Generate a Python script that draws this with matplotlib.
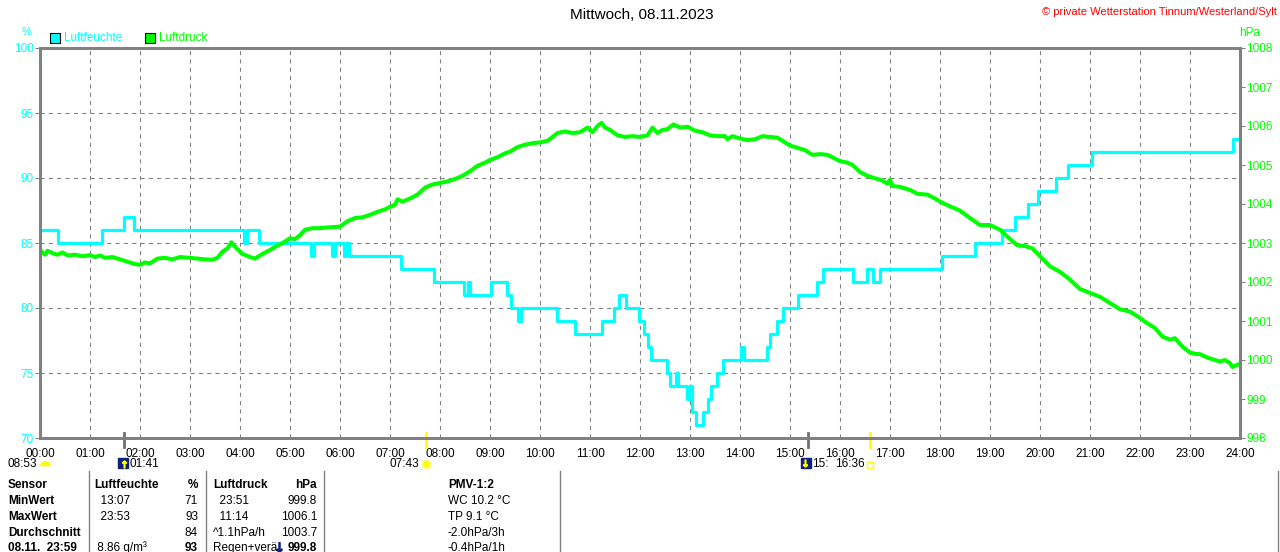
import matplotlib
matplotlib.use("Agg")
import matplotlib.pyplot as plt
from matplotlib.patches import Rectangle, Wedge
from matplotlib.transforms import blended_transform_factory

plt.rcParams['font.family'] = ['Liberation Sans', 'DejaVu Sans']

W, H = 1280, 552

# humidity (%), step values: time in hours, value held until next time
hum_t = [0, 0.36, 1.23, 1.68, 1.88, 4.08, 4.14, 4.37, 5.42, 5.48, 5.83, 5.89, 6.08, 6.12,
         6.18, 7.22, 7.88, 8.47, 8.56, 8.60, 9.03, 9.34, 9.42, 9.56, 9.62, 10.33, 10.70,
         11.24, 11.47, 11.58, 11.72, 11.98, 12.08, 12.16, 12.22, 12.54, 12.60, 12.72, 12.76,
         12.94, 13.00, 13.04, 13.12, 13.26, 13.36, 13.42, 13.54, 13.66, 14.02, 14.08, 14.54,
         14.60, 14.74, 14.86, 15.16, 15.54, 15.66, 16.26, 16.54, 16.66, 16.80, 18.04, 18.70,
         19.24, 19.50, 19.76, 19.96, 20.32, 20.56, 21.04, 23.86, 24.0]
hum_v = [86, 85, 86, 87, 86, 85, 86, 85, 84, 85, 84, 85, 84, 85,
         84, 83, 82, 81, 82, 81, 82, 81, 80, 79, 80, 79, 78,
         79, 80, 81, 80, 79, 78, 77, 76, 75, 74, 75, 74,
         73, 74, 72, 71, 72, 73, 74, 75, 76, 77, 76, 77,
         78, 79, 80, 81, 82, 83, 82, 83, 82, 83, 84, 85,
         86, 87, 88, 89, 90, 91, 92, 93, 93]

# air pressure (hPa)
pres_t = [0.00, 0.10, 0.15, 0.25, 0.35, 0.45, 0.55, 0.70, 0.85, 1.00, 1.10, 1.20, 1.30, 1.45,
          1.60, 1.75, 1.90, 2.00, 2.10, 2.20, 2.35, 2.50, 2.65, 2.80, 3.00, 3.15, 3.30, 3.45,
          3.55, 3.65, 3.75, 3.83, 3.92, 4.05, 4.20, 4.30, 4.45, 4.60, 4.70, 4.85, 5.00, 5.10,
          5.20, 5.30, 5.45, 5.60, 5.75, 6.00, 6.15, 6.30, 6.45, 6.60, 6.75, 6.90, 7.00, 7.10,
          7.15, 7.25, 7.40, 7.55, 7.70, 7.85, 8.00, 8.15, 8.30, 8.45, 8.60, 8.75, 8.90, 9.00,
          9.15, 9.30, 9.40, 9.55, 9.70, 9.85, 10.00, 10.15, 10.25, 10.35, 10.50, 10.65, 10.80,
          10.95, 11.05, 11.15, 11.23, 11.30, 11.40, 11.55, 11.70, 11.85, 12.00, 12.15, 12.25,
          12.35, 12.45, 12.55, 12.67, 12.80, 12.95, 13.10, 13.25, 13.40, 13.55, 13.70, 13.75,
          13.85, 14.00, 14.15, 14.30, 14.45, 14.60, 14.75, 14.85, 15.00, 15.15, 15.30, 15.45,
          15.60, 15.75, 16.00, 16.15, 16.25, 16.40, 16.55, 16.70, 16.85, 16.95, 17.00, 17.05,
          17.20, 17.40, 17.55, 17.75, 17.90, 18.00, 18.20, 18.40, 18.60, 18.80, 19.00, 19.20,
          19.40, 19.55, 19.70, 19.85, 20.00, 20.20, 20.40, 20.60, 20.80, 21.00, 21.20, 21.40,
          21.60, 21.80, 22.00, 22.10, 22.20, 22.30, 22.45, 22.60, 22.70, 22.85, 23.00, 23.10,
          23.20, 23.35, 23.50, 23.60, 23.70, 23.80, 23.85, 23.95, 24.00]
pres_v = [1002.82, 1002.70, 1002.80, 1002.74, 1002.70, 1002.76, 1002.68, 1002.70, 1002.66,
          1002.69, 1002.64, 1002.68, 1002.62, 1002.64, 1002.58, 1002.52, 1002.46, 1002.44,
          1002.50, 1002.48, 1002.60, 1002.62, 1002.58, 1002.64, 1002.62, 1002.60, 1002.58,
          1002.57, 1002.62, 1002.78, 1002.86, 1003.02, 1002.88, 1002.72, 1002.64, 1002.60,
          1002.72, 1002.82, 1002.90, 1003.00, 1003.12, 1003.10, 1003.20, 1003.34, 1003.38,
          1003.38, 1003.40, 1003.42, 1003.56, 1003.64, 1003.66, 1003.72, 1003.80, 1003.86,
          1003.93, 1003.98, 1004.12, 1004.06, 1004.14, 1004.24, 1004.42, 1004.50, 1004.54,
          1004.58, 1004.64, 1004.72, 1004.84, 1004.98, 1005.06, 1005.13, 1005.20, 1005.30,
          1005.34, 1005.46, 1005.52, 1005.56, 1005.58, 1005.62, 1005.72, 1005.82, 1005.86,
          1005.82, 1005.84, 1005.96, 1005.84, 1006.00, 1006.08, 1005.96, 1005.90, 1005.76,
          1005.72, 1005.74, 1005.72, 1005.76, 1005.96, 1005.82, 1005.90, 1005.92, 1006.04,
          1005.96, 1005.98, 1005.88, 1005.84, 1005.76, 1005.74, 1005.74, 1005.66, 1005.74,
          1005.68, 1005.64, 1005.66, 1005.74, 1005.72, 1005.70, 1005.62, 1005.50, 1005.44,
          1005.38, 1005.26, 1005.28, 1005.26, 1005.10, 1005.06, 1005.00, 1004.82, 1004.72,
          1004.66, 1004.60, 1004.52, 1004.62, 1004.46, 1004.44, 1004.36, 1004.26, 1004.24,
          1004.14, 1004.06, 1003.94, 1003.83, 1003.64, 1003.46, 1003.46, 1003.34, 1003.10,
          1002.94, 1002.92, 1002.86, 1002.66, 1002.40, 1002.26, 1002.06, 1001.82, 1001.72,
          1001.62, 1001.46, 1001.30, 1001.24, 1001.08, 1000.98, 1000.90, 1000.82, 1000.60,
          1000.52, 1000.56, 1000.34, 1000.19, 1000.16, 1000.15, 1000.06, 1000.00, 999.96,
          1000.00, 999.92, 999.82, 999.88, 999.90]

hours = list(range(25))
hour_labels = [f"{h:02d}:00" for h in hours]
hum_ticks = [70, 75, 80, 85, 90, 95, 100]
pres_ticks = list(range(998, 1009))

# sun / moon events (hours)
moonrise = 1 + 41 / 60
sunrise = 7 + 43 / 60
moonset = 15.35
sunset = 16 + 36 / 60

table_rows = [
    ["Sensor", "Luftfeuchte", "%", "Luftdruck", "hPa", "PMV-1:2"],
    ["MinWert", "  13:07", "71", "  23:51", "999.8", "WC 10.2 °C"],
    ["MaxWert", "  23:53", "93", "  11:14", "1006.1", "TP 9.1 °C"],
    ["Durchschnitt", "", "84", "^1.1hPa/h", "1003.7", "-2.0hPa/3h"],
    ["08.11.  23:59", " 8.86 g/m³", "93", "Regen+verä", "999.8", "-0.4hPa/1h"],
]

CYAN = "#00ffff"
GREEN = "#00ff00"
GRAY = "#808080"
NAVY = "#102080"


def fx(x):
    return x / W


def fy(y):
    return 1 - y / H


fig = plt.figure(figsize=(12.8, 5.52), dpi=100)
ax = fig.add_axes([fx(40), fy(438), 1200 / W, 390 / H])
ax.set_xlim(0, 24)
ax.set_ylim(70, 100)
ax.set_xticks(hours)
ax.set_xticklabels(hour_labels)
ax.set_yticks(hum_ticks)
ax.grid(True, color=GRAY, linestyle=(0, (4, 4)), linewidth=0.75)
ax.set_axisbelow(True)
ax.tick_params(axis='x', length=0, pad=7.5, labelsize=8.5, labelcolor='black')
ax.tick_params(axis='y', length=3.6, width=0.75, color=GRAY, labelcolor=CYAN,
               labelsize=8.5, pad=1)

ax.plot(hum_t, hum_v, drawstyle='steps-post', color=CYAN, lw=2.3)

ax2 = ax.twinx()
ax2.set_ylim(998, 1008)
ax2.set_yticks(pres_ticks)
ax2.tick_params(axis='y', length=3.6, width=0.75, color=GRAY, labelcolor=GREEN,
                labelsize=8.5, pad=1)
ax2.plot(pres_t, pres_v, color=GREEN, lw=2.9)

for a in (ax, ax2):
    for s in a.spines.values():
        s.set_color(GRAY)
        s.set_linewidth(2)

# header texts
fig.text(fx(642), fy(15), "Mittwoch, 08.11.2023", ha='center', va='center', fontsize=11)
fig.text(fx(1277), fy(12), "© private Wetterstation Tinnum/Westerland/Sylt", ha='right',
         va='center', fontsize=8, color='red')
fig.text(fx(27), fy(32), "%", ha='center', va='center', fontsize=8, color=CYAN)
fig.text(fx(1250), fy(33), "hPa", ha='center', va='center', fontsize=8.5, color=GREEN)

# legend
for x0, col, lab in [(50, CYAN, "Luftfeuchte"), (145, GREEN, "Luftdruck")]:
    fig.patches.append(Rectangle((fx(x0), fy(43)), 10 / W, 10 / H, transform=fig.transFigure,
                                 facecolor=col, edgecolor='black', lw=0.8))
    fig.text(fx(x0 + 14), fy(38), lab, ha='left', va='center', fontsize=8.5, color=col)

# sun and moon events below the axis
tr = blended_transform_factory(ax.transData, fig.transFigure)
for t, col in [(moonrise, '#707070'), (moonset, '#707070'), (sunrise, '#ffff00'), (sunset, '#ffff00')]:
    ax.plot([t, t], [fy(433), fy(447)], transform=tr, color=col, lw=2, clip_on=False)

fig.text(fx(8), fy(464), "08:53", ha='left', va='center', fontsize=8.5)
ax.plot([fx(45)], [fy(466)], transform=fig.transFigure, marker='o', ms=8, color='#ffff00',
        fillstyle='top', markerfacecoloralt='white', markeredgewidth=0, clip_on=False)
ax.plot([moonrise - 0.03], [fy(463)], transform=tr, marker='s', ms=7, color=NAVY, clip_on=False)
ax.plot([moonrise], [fy(464)], transform=tr, marker=r'$\uparrow$', ms=5, color='#ffff00',
        clip_on=False)
ax.text(moonrise + 0.1, fy(464), "01:41", transform=tr, ha='left', va='center', fontsize=8.5)
ax.plot([sunrise], [fy(464)], transform=tr, marker='o', ms=6, color='#ffff00',
        markeredgecolor='#ffff90', clip_on=False)
ax.text(sunrise - 0.14, fy(464), "07:43", transform=tr, ha='right', va='center', fontsize=8.5)
ax.plot([moonset - 0.03], [fy(463)], transform=tr, marker='s', ms=7, color=NAVY, clip_on=False)
ax.plot([moonset - 0.05], [fy(463)], transform=tr, marker=r'$\downarrow$', ms=5, color='#ffff00',
        clip_on=False)
ax.text(moonset + 0.09, fy(464), "15:", transform=tr, ha='left', va='center', fontsize=8.5)
ax.text(sunset - 0.1, fy(464), "16:36", transform=tr, ha='right', va='center', fontsize=8.5)
ax.plot([sunset], [fy(465)], transform=tr, marker='s', ms=4, markerfacecolor='none',
        markeredgecolor='#ffff00', clip_on=False)

# statistics table
for xs in [89, 206, 324, 560, 1278]:
    fig.add_artist(plt.Line2D([fx(xs), fx(xs)], [fy(471), 0], transform=fig.transFigure,
                              color=GRAY, lw=1))
row_y = [485, 501, 517, 533, 548]
for i, row in enumerate(table_rows):
    y = fy(row_y[i])
    head = i == 0
    fig.text(fx(8), y, row[0], ha='left', va='center', fontsize=8.5, fontweight='bold')
    fig.text(fx(94), y, row[1], ha='left', va='center', fontsize=8.5,
             fontweight='bold' if head else 'normal')
    fig.text(fx(198), y, row[2], ha='right', va='center', fontsize=8.5,
             fontweight='bold' if head or i == 4 else 'normal')
    fig.text(fx(213), y, row[3], ha='left', va='center', fontsize=8.5,
             fontweight='bold' if head else 'normal')
    fig.text(fx(317), y, row[4], ha='right', va='center', fontsize=8.5,
             fontweight='bold' if head or i == 4 else 'normal')
    fig.text(fx(448), y, row[5], ha='left', va='center', fontsize=8.5,
             fontweight='bold' if head else 'normal')
# trend icon in the last row
ax.plot([fx(279)], [fy(547)], transform=fig.transFigure, marker='s', ms=7, color='white',
        clip_on=False)
ax.plot([fx(279)], [fy(547)], transform=fig.transFigure, marker=r'$\downarrow$', ms=7,
        color=NAVY, clip_on=False)

fig.savefig("out.png", dpi=100)
